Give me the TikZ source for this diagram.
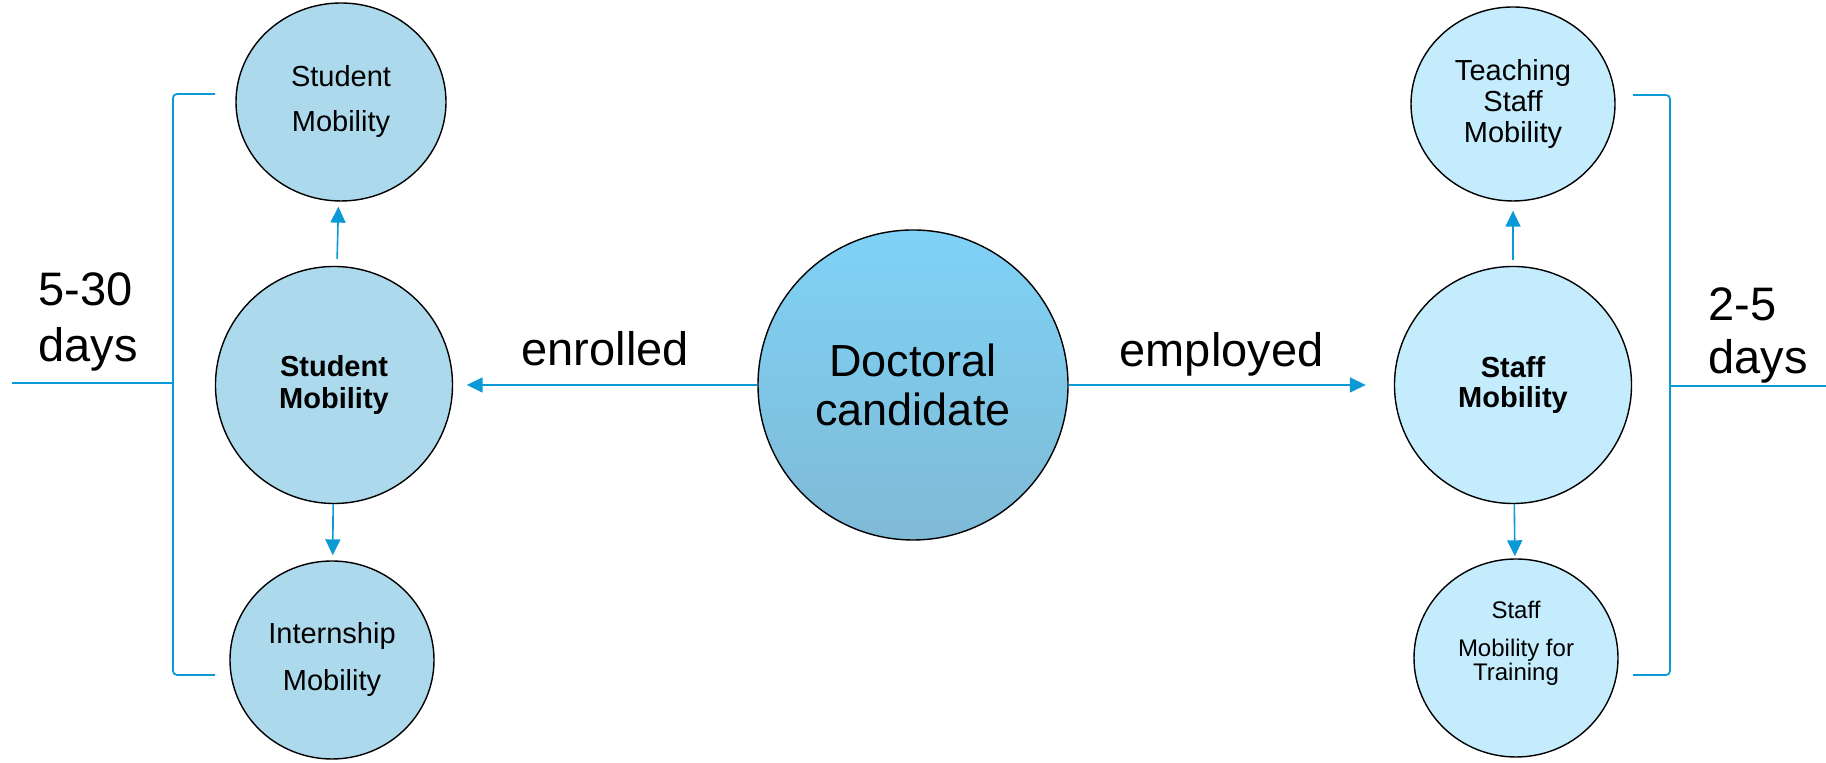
\documentclass[tikz,border=0pt]{standalone}
\usepackage{fontspec}
\setmainfont{Liberation Sans}
\usetikzlibrary{arrows.meta,shapes.geometric}

\definecolor{linkblue}{HTML}{0C9AD6}
\definecolor{studfill}{HTML}{ADD9EC}
\definecolor{stafffill}{HTML}{C4ECFD}
\definecolor{doctop}{HTML}{7FD2F6}
\definecolor{docbot}{HTML}{7FBAD6}

\begin{document}
\begin{tikzpicture}[x=0.5pt, y=0.5pt, node distance=140pt,
  mob/.style={ellipse, draw, line width=0.7pt, inner sep=0pt, align=center, minimum width=102pt, minimum height=99pt, font=\fontsize{14.5}{16}\selectfont},
  hub/.style={mob, minimum width=118.5pt, minimum height=118.5pt, font=\fontsize{14.5}{16}\selectfont\bfseries},
  link/.style={linkblue, line width=0.8pt, -{Triangle[width=7.5pt,length=8pt]}},
  bracket/.style={linkblue, line width=0.9pt, rounded corners=2pt},
  big/.style={font=\fontsize{23.5}{28}\selectfont, inner sep=0pt, text=black}]

  \useasboundingbox (0,0) rectangle (1826,763);

  \node[circle, draw, line width=0.7pt, top color=doctop, bottom color=docbot, minimum size=155pt, inner sep=0pt, align=center, font=\fontsize{22.5}{24.5}\selectfont] (doc) at (913,378) {Doctoral\\candidate};

  \node[hub, fill=studfill, left of=doc, node distance=289.5pt] (stud) {Student\\Mobility};
  \node[mob, fill=studfill, above of=stud, node distance=141.5pt, xshift=3.5pt, minimum width=105pt, font=\fontsize{14.5}{22.5}\selectfont] (studtop) {Student\\Mobility};
  \node[mob, fill=studfill, below of=stud, node distance=137.5pt, xshift=-1pt, font=\fontsize{14.5}{23.5}\selectfont] (studbot) {Internship\\Mobility};

  \node[hub, fill=stafffill, right of=doc, node distance=300pt, font=\fontsize{14.5}{15}\selectfont\bfseries] (staff) {Staff\\Mobility};
  \node[mob, fill=stafffill, above of=staff, node distance=140.5pt, minimum height=97pt, font=\fontsize{14.5}{15.5}\selectfont] (stafftop) {Teaching\\Staff\\Mobility};
  \node[mob, fill=stafffill, below of=staff, node distance=136.5pt, xshift=1.5pt, text depth=17pt, font=\fontsize{12}{12}\selectfont] (staffbot) {Staff\\[7pt]Mobility for\\Training};

  \draw[link, shorten >=6.75pt] (doc) -- node[midway, above=9.5pt, big, text depth=0pt] (enr) {enrolled} (stud);
  \draw[link, shorten >=14pt] (doc) -- node[pos=0.47, above=9pt, big, text depth=0pt] (emp) {employed} (staff);

  \draw[link, shorten <=3.5pt, shorten >=2.5pt] (stud) -- (studtop);
  \draw[link, shorten >=2.5pt] (stud) -- (studbot);
  \draw[link, shorten <=3pt, shorten >=4.5pt] (staff) -- (stafftop);
  \draw[link, shorten >=1pt] (staff) -- (staffbot);

  % brackets
  \coordinate (lbtop) at (215,669);
  \coordinate (lbstem) at (173,380);
  \coordinate (lbbot) at (215,88);
  \coordinate (lbend) at (12,380);
  \draw[bracket] (lbtop) -| (lbstem) |- (lbbot);
  \draw[bracket] (lbstem) -- (lbend);
  \node[big, anchor=north west, align=left] (lbdays) at (38,491) {5-30\\days};

  \coordinate (rbtop) at (1633,668);
  \coordinate (rbstem) at (1670,377);
  \coordinate (rbbot) at (1633,88);
  \coordinate (rbend) at (1826,377);
  \draw[bracket] (rbtop) -| (rbstem) |- (rbbot);
  \draw[bracket] (rbstem) -- (rbend);
  \node[big, anchor=north west, align=left, font=\fontsize{23.5}{26.75}\selectfont] (rbdays) at (1708,476) {2-5\\days};
\end{tikzpicture}
\end{document}
